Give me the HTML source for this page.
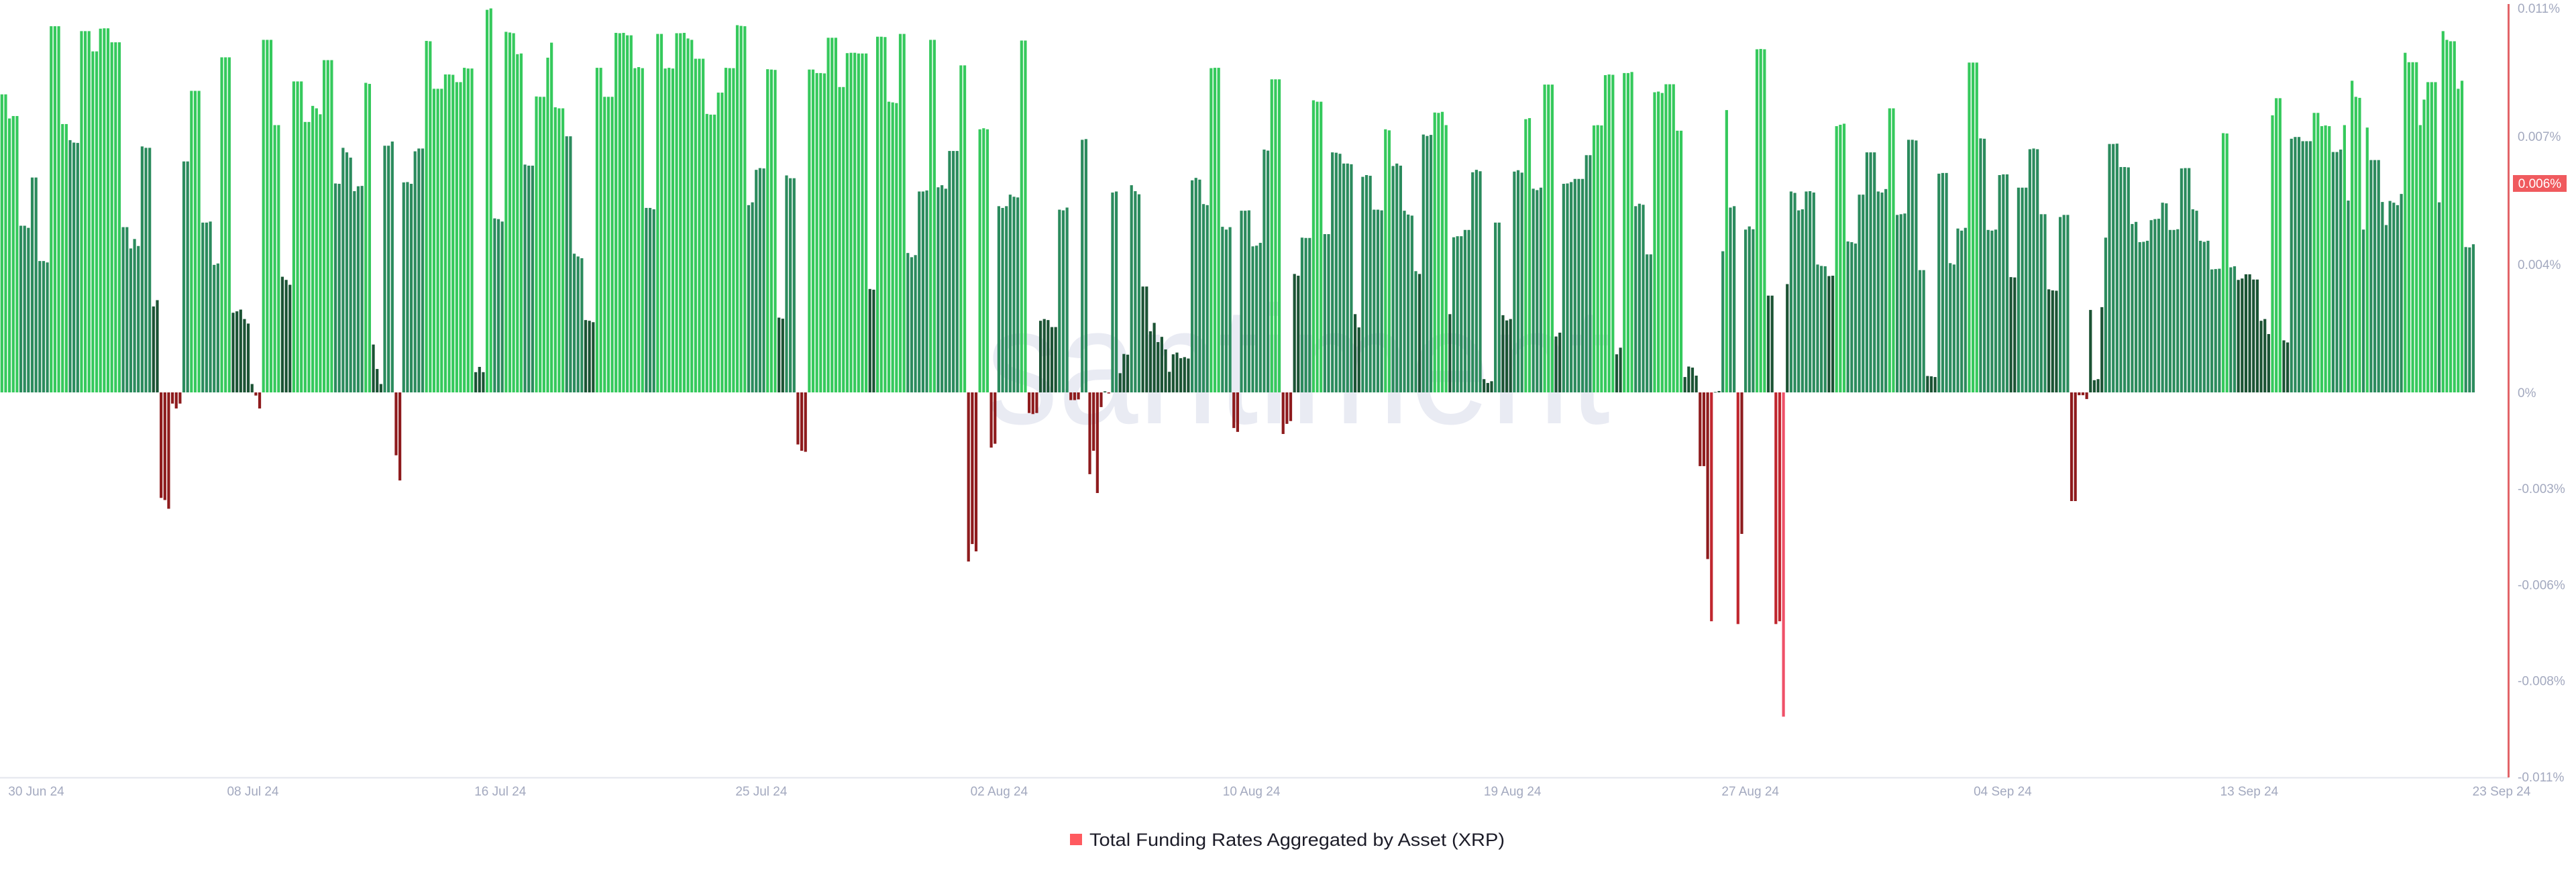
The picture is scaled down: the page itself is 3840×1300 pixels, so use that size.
<!DOCTYPE html>
<html><head><meta charset="utf-8"><style>
html,body{margin:0;padding:0;background:#fff;}
svg{display:block;font-family:"Liberation Sans",sans-serif;}
</style></head><body>
<svg id="chart" width="3840" height="1300" viewBox="0 0 3840 1300" xmlns="http://www.w3.org/2000/svg">
<rect x="0" y="0" width="3840" height="1300" fill="#ffffff"/>
<text x="1470" y="631" font-size="250" fill="#e9ebf3" textLength="930" lengthAdjust="spacingAndGlyphs">santiment</text>
<g id="bars"></g>
<line x1="0" y1="1159.5" x2="3740" y2="1159.5" stroke="#e3e5ec" stroke-width="2"/>
<line x1="3739.5" y1="6" x2="3739.5" y2="1159" stroke="#e26468" stroke-width="3"/>
<g id="yticks"></g>
<g id="xticks"></g>
<g>
<rect x="3746" y="261" width="80" height="25" fill="#f05a5e"/>
<text x="3786" y="280" font-size="19" fill="#ffffff" text-anchor="middle">0.006%</text>
</g>
<g>
<rect x="1595" y="1243" width="18" height="17" fill="#ff5a5f"/>
<text x="1624" y="1261" font-size="27" fill="#1c1c28" textLength="619" lengthAdjust="spacingAndGlyphs">Total Funding Rates Aggregated by Asset (XRP)</text>
</g>
</svg>
<script>
// funding rate values in units of 0.001%
const rates = [
8.53,8.53,7.84,7.91,7.91,4.77,4.77,4.71,6.15,6.15,3.76,3.76,3.72,10.48,10.48,10.48,7.68,7.68,7.22,7.15,7.14,10.34,10.34,10.34,9.76,9.76,10.41,10.42,10.42,10.02,10.02,10.02,4.73,4.73,4.12,4.39,4.19,7.04,7.00,7.00,2.46,2.64,-3.02,-3.08,-3.33,-0.32,-0.46,-0.32,6.61,6.61,8.63,8.63,8.63,4.86,4.86,4.89,3.65,3.69,9.59,9.59,9.59,2.28,2.32,2.37,2.10,1.97,0.24,-0.09,-0.46,10.09,10.09,10.09,7.65,7.65,3.31,3.22,3.08,8.90,8.90,8.90,7.74,7.74,8.20,8.13,7.96,9.51,9.51,9.51,5.98,5.97,7.00,6.87,6.72,5.76,5.90,5.91,8.86,8.83,1.37,0.67,0.24,7.06,7.06,7.18,-1.80,-2.52,6.01,6.02,5.97,6.90,
6.98,6.98,10.06,10.05,8.69,8.69,8.69,9.10,9.10,9.09,8.88,8.88,9.29,9.27,9.27,0.58,0.73,0.58,10.95,10.99,4.98,4.96,4.89,10.32,10.30,10.28,9.68,9.70,6.52,6.49,6.49,8.47,8.46,8.46,9.58,10.01,8.16,8.13,8.13,7.33,7.33,3.97,3.89,3.84,2.07,2.05,2.01,9.29,9.29,8.46,8.46,8.46,10.29,10.28,10.29,10.22,10.22,9.28,9.31,9.28,5.28,5.28,5.24,10.26,10.26,9.27,9.29,9.27,10.28,10.28,10.29,10.13,10.09,9.55,9.55,9.55,7.97,7.95,7.95,8.58,8.58,9.29,9.28,9.28,10.51,10.49,10.48,5.36,5.44,6.37,6.42,6.41,9.25,9.24,9.23,2.14,2.11,6.21,6.13,6.13,-1.49,-1.67,-1.70,9.24,9.24,9.14,9.14,9.13,10.15,
10.15,10.15,8.74,8.74,9.71,9.72,9.72,9.70,9.70,9.70,2.96,2.94,10.18,10.18,10.17,8.32,8.30,8.28,10.26,10.26,3.99,3.87,3.93,5.75,5.75,5.78,10.09,10.09,5.87,5.93,5.83,6.91,6.91,6.91,9.36,9.36,-4.84,-4.34,-4.55,7.53,7.56,7.53,-1.58,-1.47,5.33,5.28,5.33,5.66,5.60,5.58,10.07,10.07,-0.59,-0.62,-0.59,2.05,2.10,2.07,1.87,1.87,5.23,5.21,5.29,-0.22,-0.22,-0.20,7.23,7.25,-2.34,-1.67,-2.88,-0.42,0.03,-0.03,5.72,5.75,0.55,1.10,1.08,5.93,5.76,5.67,3.03,3.03,1.75,1.99,1.44,1.59,1.23,0.59,1.09,1.14,0.98,1.01,0.97,6.07,6.14,6.09,5.39,5.36,9.28,9.29,9.29,4.74,4.66,4.73,-1.02,-1.13,5.20,5.20,
5.21,4.18,4.20,4.28,6.95,6.92,8.96,8.96,8.96,-1.19,-0.90,-0.82,3.39,3.34,4.43,4.42,4.42,8.36,8.32,8.32,4.53,4.53,6.87,6.86,6.83,6.55,6.55,6.53,2.24,1.86,6.17,6.22,6.20,5.23,5.23,5.21,7.53,7.50,6.48,6.55,6.49,5.20,5.09,5.06,3.47,3.39,7.38,7.34,7.37,8.01,8.00,8.03,7.65,2.24,4.44,4.47,4.47,4.65,4.65,6.30,6.37,6.33,0.38,0.27,0.32,4.86,4.86,2.21,2.06,2.10,6.32,6.36,6.29,7.82,7.85,5.83,5.79,5.86,8.81,8.81,8.81,1.60,1.71,5.97,5.98,6.02,6.11,6.11,6.11,6.79,6.79,7.64,7.65,7.64,9.08,9.10,9.09,1.09,1.28,9.14,9.14,9.17,5.33,5.40,5.37,3.95,3.95,8.59,8.61,8.57,
8.82,8.82,8.82,7.49,7.49,0.44,0.74,0.71,0.48,-2.11,-2.11,-4.77,-6.55,0.01,0.04,4.04,8.08,5.29,5.33,-6.63,-4.05,4.66,4.75,4.67,9.82,9.83,9.82,2.77,2.77,-6.63,-6.55,-9.28,3.10,5.75,5.71,5.21,5.24,5.75,5.76,5.72,3.66,3.62,3.61,3.33,3.34,7.62,7.66,7.69,4.32,4.30,4.26,5.66,5.66,6.87,6.87,6.87,5.75,5.72,5.82,8.13,8.13,5.08,5.10,5.12,7.23,7.23,7.21,3.50,3.50,0.47,0.46,0.44,6.26,6.28,6.28,3.70,3.66,4.69,4.63,4.71,9.44,9.44,9.44,7.27,7.26,4.65,4.63,4.66,6.22,6.24,6.24,3.30,3.29,5.86,5.86,5.86,6.96,6.98,6.96,5.10,5.10,2.95,2.92,2.91,5.02,5.08,5.08,-3.11,-3.11,-0.08,
-0.08,-0.19,2.36,0.35,0.38,2.44,4.43,7.11,7.11,7.12,6.45,6.45,6.44,4.82,4.88,4.30,4.31,4.34,4.93,4.96,4.97,5.43,5.41,4.65,4.65,4.67,6.41,6.42,6.42,5.24,5.20,4.34,4.31,4.34,3.52,3.53,3.54,7.42,7.41,3.58,3.61,3.22,3.26,3.38,3.38,3.23,3.23,2.05,2.10,1.67,7.93,8.42,8.42,1.49,1.43,7.26,7.31,7.31,7.19,7.19,7.19,8.00,8.00,7.62,7.64,7.62,6.88,6.88,6.95,7.65,5.49,8.92,8.46,8.43,4.66,7.58,6.65,6.65,6.65,5.45,4.79,5.48,5.43,5.36,5.68,9.72,9.45,9.45,9.45,7.65,8.38,8.88,8.88,8.88,5.44,10.34,10.09,10.05,10.05,8.69,8.92,4.16,4.15,4.24
];
const yTickLabels = ["0.011%","0.007%","0.004%","0%","-0.003%","-0.006%","-0.008%","-0.011%"];
const yTickValues = [11, 7.333, 3.667, 0, -2.75, -5.5, -8.25, -11];
const xTickLabels = ["30 Jun 24","08 Jul 24","16 Jul 24","25 Jul 24","02 Aug 24","10 Aug 24","19 Aug 24","27 Aug 24","04 Sep 24","13 Sep 24","23 Sep 24"];
const xTickDays = [0, 7.47, 16.0, 25.0, 33.2, 41.9, 50.9, 59.1, 67.8, 76.3, 85];

const NS = "http://www.w3.org/2000/svg";
const zeroY = 585, pxPerUnit = 52.09;
function yScale(v){ return zeroY - v * pxPerUnit; }
const firstX = 2.8, lastX = 3687;
function xScale(i){ return firstX + i * (lastX - firstX) / (rates.length - 1); }
const dayX0 = 54, pxPerDay = (3729 - 54) / 85;
function dayScale(d){ return dayX0 + d * pxPerDay; }
function barColor(v){
  if (v < -8) return "#ef5068";
  if (v < -5) return "#c0262e";
  if (v < 0) return "#8e1b1d";
  if (v >= 7.4) return "#35c95c";
  if (v >= 3.4) return "#2b8b5d";
  return "#1b5334";
}
const barsG = document.getElementById("bars");
const bw = 4.2;
rates.forEach(function(v, i){
  const r = document.createElementNS(NS, "rect");
  const cx = xScale(i);
  const y1 = yScale(Math.max(v, 0)), y2 = yScale(Math.min(v, 0));
  r.setAttribute("x", (cx - bw / 2).toFixed(2));
  r.setAttribute("y", y1.toFixed(2));
  r.setAttribute("width", bw);
  r.setAttribute("height", Math.max(y2 - y1, 0.8).toFixed(2));
  r.setAttribute("fill", barColor(v));
  
  
  barsG.appendChild(r);
});
const yG = document.getElementById("yticks");
yTickLabels.forEach(function(lbl, i){
  const t = document.createElementNS(NS, "text");
  t.setAttribute("x", 3753);
  t.setAttribute("y", (yScale(yTickValues[i]) + 7).toFixed(1));
  t.setAttribute("font-size", "19");
  t.setAttribute("fill", "#a3a9bf");
  t.textContent = lbl;
  
  
  yG.appendChild(t);
});
const xG = document.getElementById("xticks");
xTickLabels.forEach(function(lbl, i){
  const t = document.createElementNS(NS, "text");
  t.setAttribute("x", dayScale(xTickDays[i]).toFixed(1));
  t.setAttribute("y", 1186);
  t.setAttribute("font-size", "19");
  t.setAttribute("fill", "#a3a9bf");
  t.setAttribute("text-anchor", "middle");
  t.textContent = lbl;
  
  
  xG.appendChild(t);
});
</script>
</body></html>
